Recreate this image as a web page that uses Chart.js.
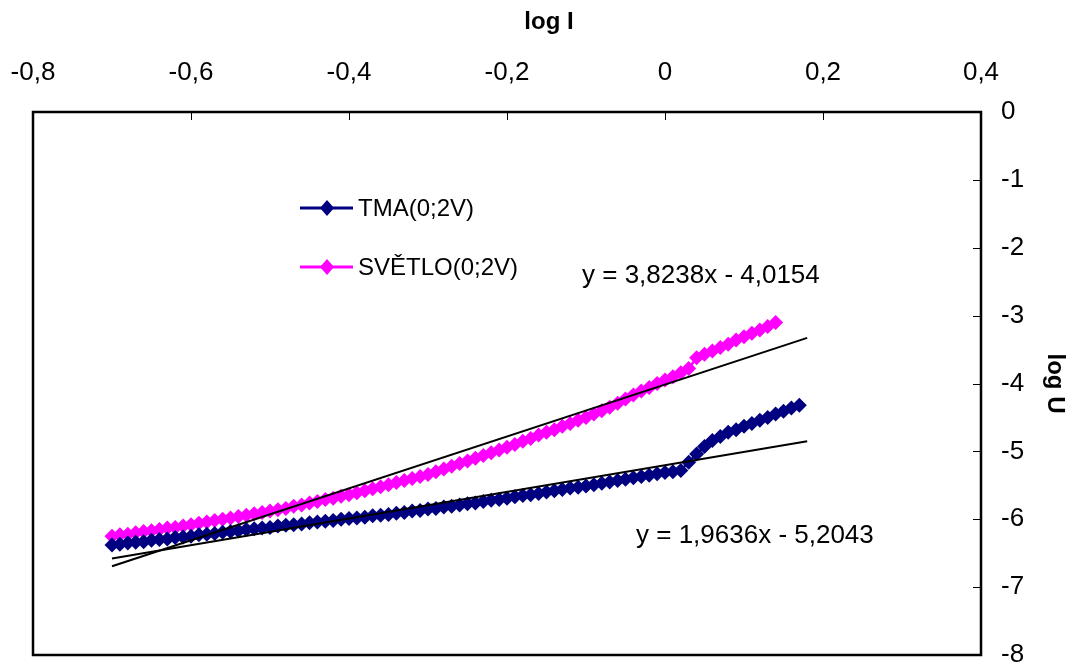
<!DOCTYPE html>
<html><head><meta charset="utf-8">
<script src="https://cdn.jsdelivr.net/npm/chart.js@4.4.1/dist/chart.umd.min.js"></script>
<style>html,body{margin:0;padding:0;background:#fff}#wrap{width:1071px;height:664px;position:relative}</style>
</head><body><div id="wrap"><canvas id="c" width="1071" height="664"></canvas></div>
<script>
// ---- data (log I, log U) ----
const tmaX = [-0.70,-0.69,-0.68,-0.67,-0.66,-0.65,-0.64,-0.63,-0.62,-0.61,-0.60,-0.59,-0.58,-0.57,-0.56,-0.55,-0.54,-0.53,-0.52,-0.51,-0.50,-0.49,-0.48,-0.47,-0.46,-0.45,-0.44,-0.43,-0.42,-0.41,-0.40,-0.39,-0.38,-0.37,-0.36,-0.35,-0.34,-0.33,-0.32,-0.31,-0.30,-0.29,-0.28,-0.27,-0.26,-0.25,-0.24,-0.23,-0.22,-0.21,-0.20,-0.19,-0.18,-0.17,-0.16,-0.15,-0.14,-0.13,-0.12,-0.11,-0.10,-0.09,-0.08,-0.07,-0.06,-0.05,-0.04,-0.03,-0.02,-0.01,0.00,0.01,0.02,0.03,0.04,0.05,0.06,0.07,0.08,0.09,0.10,0.11,0.12,0.13,0.14,0.15,0.16,0.17];
const tmaY = [-6.38,-6.37,-6.35,-6.34,-6.33,-6.31,-6.30,-6.29,-6.27,-6.26,-6.25,-6.23,-6.22,-6.21,-6.19,-6.18,-6.17,-6.15,-6.14,-6.13,-6.12,-6.10,-6.09,-6.08,-6.07,-6.05,-6.04,-6.03,-6.02,-6.00,-5.99,-5.98,-5.97,-5.95,-5.94,-5.93,-5.91,-5.90,-5.88,-5.87,-5.85,-5.84,-5.82,-5.81,-5.79,-5.77,-5.76,-5.74,-5.72,-5.71,-5.69,-5.67,-5.65,-5.64,-5.62,-5.60,-5.58,-5.56,-5.54,-5.53,-5.51,-5.49,-5.47,-5.45,-5.43,-5.41,-5.39,-5.37,-5.35,-5.33,-5.31,-5.30,-5.28,-5.16,-5.04,-4.93,-4.84,-4.78,-4.72,-4.68,-4.63,-4.59,-4.54,-4.50,-4.45,-4.41,-4.36,-4.32];
const svetloX = [-0.70,-0.69,-0.68,-0.67,-0.66,-0.65,-0.64,-0.63,-0.62,-0.61,-0.60,-0.59,-0.58,-0.57,-0.56,-0.55,-0.54,-0.53,-0.52,-0.51,-0.50,-0.49,-0.48,-0.47,-0.46,-0.45,-0.44,-0.43,-0.42,-0.41,-0.40,-0.39,-0.38,-0.37,-0.36,-0.35,-0.34,-0.33,-0.32,-0.31,-0.30,-0.29,-0.28,-0.27,-0.26,-0.25,-0.24,-0.23,-0.22,-0.21,-0.20,-0.19,-0.18,-0.17,-0.16,-0.15,-0.14,-0.13,-0.12,-0.11,-0.10,-0.09,-0.08,-0.07,-0.06,-0.05,-0.04,-0.03,-0.02,-0.01,0.00,0.01,0.02,0.03,0.04,0.05,0.06,0.07,0.08,0.09,0.10,0.11,0.12,0.13,0.14];
const svetloY = [-6.25,-6.23,-6.22,-6.20,-6.18,-6.17,-6.15,-6.13,-6.12,-6.10,-6.08,-6.06,-6.04,-6.02,-6.00,-5.98,-5.96,-5.94,-5.92,-5.90,-5.88,-5.86,-5.84,-5.81,-5.79,-5.76,-5.74,-5.71,-5.69,-5.66,-5.64,-5.61,-5.58,-5.55,-5.52,-5.49,-5.46,-5.43,-5.40,-5.37,-5.34,-5.30,-5.26,-5.22,-5.18,-5.14,-5.10,-5.06,-5.02,-4.98,-4.94,-4.90,-4.85,-4.81,-4.76,-4.72,-4.68,-4.63,-4.59,-4.54,-4.50,-4.45,-4.40,-4.35,-4.29,-4.23,-4.17,-4.11,-4.06,-4.00,-3.95,-3.90,-3.84,-3.78,-3.62,-3.57,-3.52,-3.47,-3.42,-3.36,-3.31,-3.26,-3.21,-3.16,-3.10];
const seriesNames = ["TMA(0;2V)", "SVĚTLO(0;2V)"];
// trendlines shown on the chart (slope, intercept) and their drawn x-range
const trendSlopes = [1.9636, 3.8238];
const trendIntercepts = [-5.2043, -4.0154];
const trendRange = [-0.70, 0.18];
const trendLabels = ["y = 1,9636x - 5,2043", "y = 3,8238x - 4,0154"];
const xTicks = [-0.8, -0.6, -0.4, -0.2, 0, 0.2, 0.4];
const yTicks = [0, -1, -2, -3, -4, -5, -6, -7, -8];

const FONT = "'Liberation Sans', Arial, sans-serif";
const colors = ["#000080", "#FF00FF"];
const fmt = v => { const r = Math.round(v * 10) / 10; return r === 0 ? "0" : String(r).replace(".", ","); };

const pts = (xs, ys) => xs.map((x, i) => ({x, y: ys[i]}));
const trendPts = k => trendRange.map(x => ({x, y: trendSlopes[k] * x + trendIntercepts[k]}));

const decor = {
  id: 'decor',
  afterDatasetsDraw(chart) {
    const {ctx, chartArea: a, scales: {x, y}} = chart;
    ctx.save();
    ctx.strokeStyle = '#000'; ctx.lineWidth = 1;
    xTicks.forEach(v => { const px = Math.round(x.getPixelForValue(v)) + 0.5; ctx.beginPath(); ctx.moveTo(px, a.top); ctx.lineTo(px, a.top + 8); ctx.stroke(); });
    yTicks.forEach(v => { const py = Math.round(y.getPixelForValue(v)) + 0.5; ctx.beginPath(); ctx.moveTo(a.right, py); ctx.lineTo(a.right - 8, py); ctx.stroke(); });
    ctx.lineWidth = 2.5; ctx.strokeStyle = '#000';
    ctx.strokeRect(a.left, a.top, a.right - a.left, a.bottom - a.top);
    const rows = [208, 267];
    ctx.font = `24px ${FONT}`; ctx.textBaseline = 'middle'; ctx.textAlign = 'left';
    rows.forEach((ry, i) => {
      ctx.strokeStyle = colors[i]; ctx.lineWidth = 3;
      ctx.beginPath(); ctx.moveTo(300, ry); ctx.lineTo(353, ry); ctx.stroke();
      ctx.fillStyle = colors[i];
      ctx.beginPath(); ctx.moveTo(327, ry - 8); ctx.lineTo(334, ry); ctx.lineTo(327, ry + 8); ctx.lineTo(320, ry); ctx.closePath(); ctx.fill();
      ctx.fillStyle = '#000'; ctx.fillText(seriesNames[i], 358, ry + 1);
    });
    ctx.font = `26px ${FONT}`;
    ctx.fillText(trendLabels[1], 582, 276);
    ctx.fillText(trendLabels[0], 636, 536);
    ctx.font = `bold 24px ${FONT}`; ctx.textAlign = 'center';
    ctx.fillText('log I', 549, 22);
    ctx.restore();
  }
};

new Chart(document.getElementById('c'), {
  type: 'scatter',
  data: {
    datasets: [
      { label: 'trend1', data: trendPts(0), showLine: true, borderColor: '#000', borderWidth: 2, pointRadius: 0, order: 0 },
      { label: 'trend2', data: trendPts(1), showLine: true, borderColor: '#000', borderWidth: 2, pointRadius: 0, order: 0 },
      { label: seriesNames[0], data: pts(tmaX, tmaY), showLine: true, borderColor: colors[0], backgroundColor: colors[0], borderWidth: 2.5, pointStyle: 'rectRot', pointRadius: 7.5, pointBorderWidth: 0, order: 1 },
      { label: seriesNames[1], data: pts(svetloX, svetloY), showLine: true, borderColor: colors[1], backgroundColor: colors[1], borderWidth: 2.5, pointStyle: 'rectRot', pointRadius: 7.5, pointBorderWidth: 0, order: 2 }
    ]
  },
  options: {
    responsive: false, animation: false, devicePixelRatio: 1,
    layout: { padding: { left: 33, right: 0, top: 0, bottom: 9 } },
    plugins: { legend: { display: false }, tooltip: { enabled: false } },
    scales: {
      x: {
        type: 'linear', position: 'top', min: -0.8, max: 0.4,
        afterBuildTicks: s => { s.ticks = xTicks.map(v => ({value: v})); },
        afterFit: s => { s.height = 112; s.paddingLeft = 0; s.paddingRight = 0; s.paddingTop = 0; s.paddingBottom = 0; },
        grid: { display: false, drawTicks: false }, border: { display: false },
        ticks: { callback: v => fmt(v), color: '#000', font: { family: FONT, size: 26 }, padding: 24, maxRotation: 0, autoSkip: false }
      },
      y: {
        type: 'linear', position: 'right', min: -8, max: 0,
        afterBuildTicks: s => { s.ticks = yTicks.map(v => ({value: v})); },
        afterFit: s => { s.width = 90; s.paddingLeft = 0; s.paddingRight = 0; s.paddingTop = 0; s.paddingBottom = 0; },
        grid: { display: false, drawTicks: false }, border: { display: false },
        title: { display: true, text: 'log U', color: '#000', font: { family: FONT, size: 24, weight: 'bold' }, padding: { top: 2, bottom: 0 } },
        ticks: { callback: v => String(v), color: '#000', font: { family: FONT, size: 26 }, padding: 20, autoSkip: false }
      }
    }
  },
  plugins: [decor]
});
</script>
</body></html>
